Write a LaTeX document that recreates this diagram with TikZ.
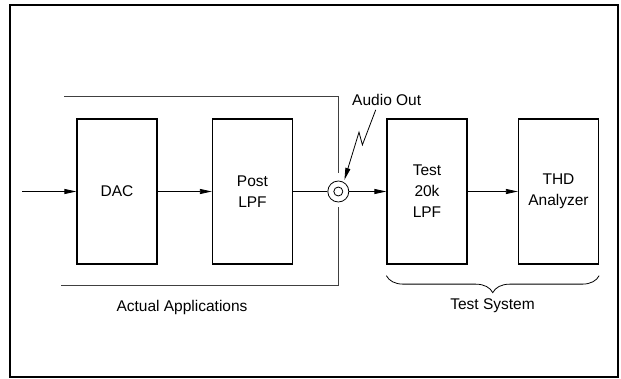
\documentclass[tikz,border=0pt]{standalone}
\usepackage{fontspec}
\setmainfont{Liberation Sans}
\usetikzlibrary{arrows.meta,decorations.pathreplacing}

\tikzset{
  block/.style={draw,line width=1.3pt,minimum width=80pt,minimum height=145pt,align=center,inner sep=0pt},
  sig/.style={-{Triangle[length=12pt,width=5pt]},line width=0.8pt},
  encl/.style={line width=0.9pt,black!75},
  lbl/.style={inner sep=0pt},
}

\begin{document}
\begin{tikzpicture}[x=1pt,y=-1pt,font=\fontsize{15.5}{21}\selectfont]
                    \useasboundingbox (0,0) rectangle (621,379);
                    \draw[line width=1.8pt] (10,5) rectangle (618,377);
                    \node[block] (dac)  at (117,191.5)   {DAC};
                    \node[block] (post) at (252.5,191.5) {Post\\LPF};
                    \node[block] (test) at (427,191.5)   {Test\\20k\\LPF};
                    \node[block] (thd)  at (558.5,191.5) {THD\\Analyzer};
                    \node[circle,draw,line width=0.8pt,minimum size=21pt,inner sep=0pt] (jack) at (338.3,191.5) {};
                    \node[circle,draw,line width=0.8pt,minimum size=9pt,inner sep=0pt] (jackin) at (jack) {};
                    \coordinate (in) at (22,191.5);
                    \draw[sig] (in) -- (dac);
                    \draw[sig] (dac) -- (post);
                    \draw[line width=0.8pt] (post) -- (jack);
                    \draw[sig] (jack) -- (test);
                    \draw[sig] (test) -- (thd);
                    \draw[encl] (64,96) -| ([yshift=8pt]jack.north);
                    \draw[encl] (61,285) -| ([yshift=-4.5pt]jack.south);
                    \node[lbl] (audio) at (386.7,100) {Audio Out};
                    \draw[sig] (audio.south) ++(-11,4) -- ++(-13.3,35) -- ++(-3.4,-12.7) -- ([shift={(1pt,2pt)}]jack.62);
                    \node (apps) at (182,307) {Actual Applications};
                    \draw[line width=0.8pt,decorate,decoration={brace,amplitude=17pt}] ([yshift=-11pt]thd.south east) -- ([yshift=-11pt]test.south west);
                    \node (tsys) at (492.5,306) {Test System};
\end{tikzpicture}
\end{document}
